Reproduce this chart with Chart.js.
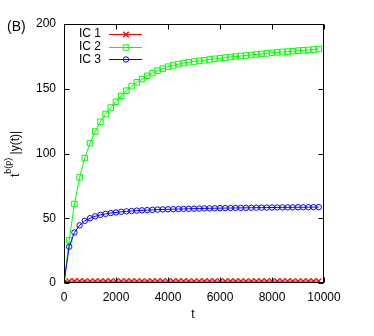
<!DOCTYPE html>
<html><head><meta charset="utf-8">
<script src="https://cdn.jsdelivr.net/npm/chart.js@4/dist/chart.umd.min.js"></script>
<style>html,body{margin:0;padding:0;background:#fff}#wrap{width:374px;height:336px}</style>
</head><body><div id="wrap"><canvas id="c" width="374" height="336"></canvas></div>
<script>
const tValues = [0,200,400,600,800,1000,1200,1400,1600,1800,2000,2200,2400,2600,2800,3000,3200,3400,3600,3800,4000,4200,4400,4600,4800,5000,5200,5400,5600,5800,6000,6200,6400,6600,6800,7000,7200,7400,7600,7800,8000,8200,8400,8600,8800,9000,9200,9400,9600,9800];
const ic1 = [0,1.5,1.5,1.5,1.5,1.5,1.5,1.5,1.5,1.5,1.5,1.5,1.5,1.5,1.5,1.5,1.5,1.5,1.5,1.5,1.5,1.5,1.5,1.5,1.5,1.5,1.5,1.5,1.5,1.5,1.5,1.5,1.5,1.5,1.5,1.5,1.5,1.5,1.5,1.5,1.5,1.5,1.5,1.5,1.5,1.5,1.5,1.5,1.5,1.5];
const ic2 = [0,33,61,81.5,96.5,108,117,124.5,130.5,135.5,140,144.5,148.5,152,155,157.5,160,162,164,165.5,167,168,169,169.8,170.5,171,171.5,172,172.6,173.1,173.6,174.1,174.5,174.9,175.3,175.7,176.1,176.5,176.9,177.3,177.7,178.1,178.4,178.7,179,179.4,179.7,180,180.3,180.7];
const ic3 = [0,28,39,44.5,48,50,51.5,52.6,53.4,54,54.5,55,55.3,55.6,55.9,56.1,56.3,56.5,56.7,56.8,56.9,57,57.1,57.2,57.3,57.4,57.5,57.6,57.65,57.7,57.8,57.85,57.9,57.95,58,58.05,58.1,58.15,58.2,58.25,58.3,58.35,58.4,58.4,58.45,58.5,58.5,58.55,58.6,58.6];
const seriesNames = ['IC 1','IC 2','IC 3'];
const xTicks = [0,2000,4000,6000,8000,10000];
const yTicks = [0,50,100,150,200];

const FONT = '"Liberation Sans", Arial, sans-serif';
const styles = [
  {color:'#ff0000', style:'crossRot', r:3.8},
  {color:'#00ff00', style:'rect', r:3.9},
  {color:'#0000ff', style:'circle', r:2.7}
];
const seriesData = [ic1, ic2, ic3];
const datasets = seriesData.map((arr,i)=>({
  label: seriesNames[i],
  data: arr.map((v,j)=>({x:tValues[j], y:v})),
  borderColor: styles[i].color,
  backgroundColor: 'rgba(0,0,0,0)',
  pointBorderColor: styles[i].color,
  pointBackgroundColor: 'rgba(0,0,0,0)',
  pointStyle: styles[i].style,
  pointRadius: styles[i].r,
  pointBorderWidth: i===0 ? 1.3 : 1,
  borderWidth: 1,
  tension: 0,
  order: 3-i
}));

const decor = {
  id:'decor',
  afterDraw(chart){
    const ctx = chart.ctx, a = chart.chartArea;
    const xs = chart.scales.x, ys = chart.scales.y;
    ctx.save();
    ctx.strokeStyle = '#000'; ctx.lineWidth = 1;
    const L = Math.round(a.left)+0.5, R = Math.round(a.right)-0.5, T = Math.round(a.top)+0.5, B = Math.round(a.bottom)-0.5;
    ctx.strokeRect(L, T, R-L, B-T);
    ctx.beginPath();
    xTicks.forEach(v=>{ const p = Math.round(xs.getPixelForValue(v))+0.5;
      ctx.moveTo(p,B); ctx.lineTo(p,B-5); ctx.moveTo(p,T); ctx.lineTo(p,T+5); });
    yTicks.forEach(v=>{ const p = Math.round(ys.getPixelForValue(v))+0.5;
      ctx.moveTo(L,p); ctx.lineTo(L+5,p); ctx.moveTo(R,p); ctx.lineTo(R-5,p); });
    ctx.stroke();
    // panel label
    ctx.fillStyle = '#000';
    ctx.font = '14px ' + FONT;
    ctx.textAlign = 'left'; ctx.textBaseline = 'middle';
    ctx.fillText('(B)', 7, 27);
    // x title
    ctx.font = '12px ' + FONT;
    ctx.textAlign = 'center';
    ctx.fillText('t', 193, 315);
    // y title with superscript
    ctx.save();
    ctx.translate(16, 154);
    ctx.rotate(-Math.PI/2);
    const mainF = '12px ' + FONT, supF = '9px ' + FONT;
    ctx.font = mainF; const w1 = ctx.measureText('t').width;
    ctx.font = supF; const w2 = ctx.measureText('b(p)').width;
    ctx.font = mainF; const w3 = ctx.measureText(' |y(t)|').width;
    let x0 = -(w1+w2+w3)/2;
    ctx.textAlign = 'left'; ctx.textBaseline = 'middle';
    ctx.font = mainF; ctx.fillText('t', x0, 0);
    ctx.font = supF; ctx.fillText('b(p)', x0+w1, -7);
    ctx.font = mainF; ctx.fillText(' |y(t)|', x0+w1+w2, 0);
    ctx.restore();
    // legend
    ctx.font = '12px ' + FONT;
    ctx.textAlign = 'right'; ctx.textBaseline = 'middle';
    seriesNames.forEach((n,i)=>{
      const y = 34 + i*12.7;
      const py = Math.round(y)+0.5;
      ctx.fillStyle = '#000';
      ctx.fillText(n, 101, y);
      ctx.strokeStyle = styles[i].color; ctx.lineWidth = 1;
      ctx.beginPath(); ctx.moveTo(109, py); ctx.lineTo(142, py); ctx.stroke();
      ctx.fillStyle = 'rgba(0,0,0,0)';
      ctx.strokeStyle = styles[i].color;
      ctx.lineWidth = i===0 ? 1.3 : 1;
      Chart.helpers.drawPoint(ctx, {pointStyle: styles[i].style, radius: styles[i].r, borderWidth: ctx.lineWidth}, 126, py);
    });
    ctx.restore();
  }
};

new Chart(document.getElementById('c'), {
  type:'line',
  data:{datasets},
  options:{
    responsive:false, animation:false,
    layout:{padding:{left:0, top:24, right:50, bottom:0}},
    plugins:{legend:{display:false}, tooltip:{enabled:false}},
    scales:{
      x:{type:'linear', min:0, max:10000,
         afterFit(s){ s.height = 53; },
         afterBuildTicks(s){ s.ticks = xTicks.map(v=>({value:v})); },
         grid:{display:false, drawTicks:false}, border:{display:false},
         ticks:{padding:7, color:'#000', font:{family:FONT, size:12}, maxRotation:0, autoSkip:false, callback:v=>String(v)}},
      y:{type:'linear', min:0, max:200,
         afterFit(s){ s.width = 64; },
         afterBuildTicks(s){ s.ticks = yTicks.map(v=>({value:v})); },
         grid:{display:false, drawTicks:false}, border:{display:false},
         ticks:{padding:8, color:'#000', font:{family:FONT, size:12}, callback:v=>String(v)}}
    }
  },
  plugins:[decor]
});
</script></body></html>
